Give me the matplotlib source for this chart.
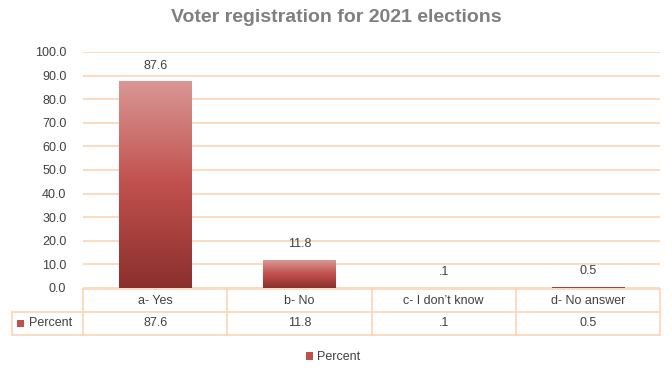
import numpy as np
import matplotlib.pyplot as plt
from matplotlib.colors import LinearSegmentedColormap
from matplotlib.patches import Patch

categories = ["a- Yes", "b- No", "c- I don\u2019t know", "d- No answer"]
percent = [87.6, 11.8, 0.1, 0.5]
value_labels = ["87.6", "11.8", ".1", "0.5"]
series_name = "Percent"

plt.rcParams['font.family'] = ['Liberation Sans', 'DejaVu Sans']

grid_col = "#fbd5b5"
text_col = "#404040"
W, H = 672, 382

fig = plt.figure(figsize=(6.72, 3.82), dpi=100)
ax = fig.add_axes([83 / W, 1 - 288 / H, 577 / W, 236 / H])

x = np.arange(len(categories))
bars = ax.bar(x, percent, width=0.5, color="none", edgecolor="none", zorder=3)

# vertical gradient inside each bar
cmap = LinearSegmentedColormap.from_list("grad", ["#8b2f2d", "#c0504d", "#d99795"])
grad = np.linspace(0, 1, 256).reshape(-1, 1)
for b in bars:
    x0, w, h = b.get_x(), b.get_width(), b.get_height()
    im = ax.imshow(grad, cmap=cmap, origin="lower", aspect="auto",
                   extent=[x0, x0 + w, 0, h], zorder=3)
    im.set_clip_path(b)

for xi, v, lab in zip(x, percent, value_labels):
    ax.annotate(lab, (xi, v), xytext=(0, 7), textcoords="offset points",
                ha="center", va="bottom", fontsize=9, color=text_col)

ax.set_xlim(-0.5, len(categories) - 0.5)
ax.set_ylim(0, 100)
ax.set_yticks(np.arange(0, 101, 10))
ax.set_yticklabels([f"{t:.1f}" for t in np.arange(0, 101, 10)], fontsize=9, color=text_col)
ax.tick_params(axis="y", length=0, pad=12)
ax.set_xticks([])
ax.grid(axis="y", color=grid_col, linewidth=1.2, zorder=0)
ax.set_axisbelow(True)
for s in ax.spines.values():
    s.set_visible(False)

# data table under the chart, drawn in axes coordinates
def px(xp):
    return (xp - 83) / 577

def py(yp):
    return -(yp - 288) / 236

n = len(categories)
col_edges = np.linspace(83, 660, n + 1)
row_top, row_mid, row_bot = 289, 312, 335
lk = dict(color=grid_col, linewidth=1.2, transform=ax.transAxes, clip_on=False)
ax.plot([px(83), px(660)], [py(row_top)] * 2, **lk)
for yy in (row_mid, row_bot):
    ax.plot([px(12), px(660)], [py(yy)] * 2, **lk)
for xe in col_edges:
    ax.plot([px(xe)] * 2, [py(row_top), py(row_bot)], **lk)
ax.plot([px(12)] * 2, [py(row_mid), py(row_bot)], **lk)

for i in range(n):
    xc = px((col_edges[i] + col_edges[i + 1]) / 2)
    ax.text(xc, py((row_top + row_mid) / 2), categories[i], transform=ax.transAxes,
            ha="center", va="center", fontsize=9, color=text_col)
    ax.text(xc, py((row_mid + row_bot) / 2), value_labels[i], transform=ax.transAxes,
            ha="center", va="center", fontsize=9, color=text_col)
ax.text(px(29), py((row_mid + row_bot) / 2), series_name, transform=ax.transAxes,
        ha="left", va="center", fontsize=9, color=text_col)
ax.add_patch(plt.Rectangle((px(17), py(327)), 7 / 577, 7 / 236,
                           transform=ax.transAxes, facecolor="#c0504d",
                           edgecolor="none", clip_on=False, zorder=5))

fig.legend(handles=[Patch(facecolor="#c0504d", label=series_name)],
           loc="center", bbox_to_anchor=(333 / W, 1 - 357 / H), frameon=False,
           fontsize=9, handlelength=0.6, handleheight=0.6, handletextpad=0.3,
           labelcolor=text_col)

fig.suptitle("Voter registration for 2021 elections", x=0.5, y=1 - 18 / H,
             fontsize=14, fontweight="bold", color="#7f7f7f", va="center")

fig.savefig("out.png", dpi=100)
